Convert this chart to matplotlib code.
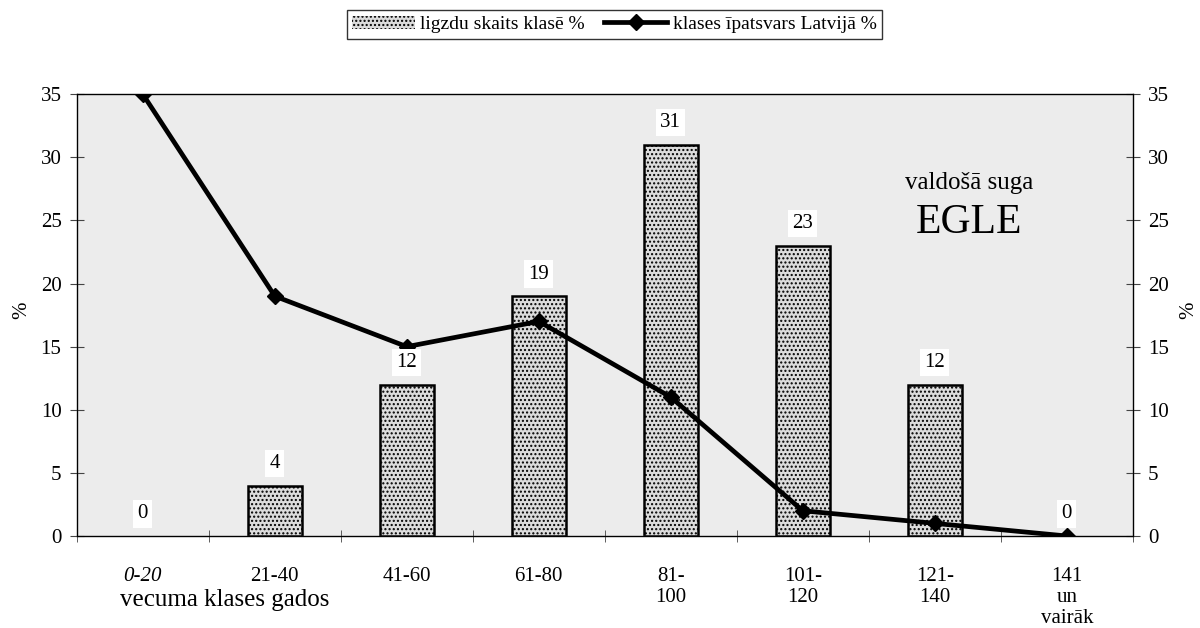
import numpy as np
import matplotlib.pyplot as plt

plt.rcParams['font.family'] = ['Liberation Serif', 'DejaVu Serif']

categories = ['0-20', '21-40', '41-60', '61-80', '81-\n100', '101-\n120', '121-\n140', '141\nun\nvairāk']
nests = [0, 4, 12, 19, 31, 23, 12, 0]        # ligzdu skaits klasē %
share = [35, 19, 15, 17, 11, 2, 1, 0]        # klases īpatsvars Latvijā %

x = np.arange(len(categories))

fig = plt.figure(figsize=(12, 6.28), dpi=100)
ax = fig.add_axes([0.064, 0.1465, 0.88, 0.7035])
ax.set_facecolor('#ececec')

bars = ax.bar(x, nests, width=0.41, color='#dcdcdc', edgecolor='black',
              linewidth=1.8, hatch='....', zorder=2, label='ligzdu skaits klasē %')
for b, v in zip(bars, nests):
    if v == 0:
        b.set_linewidth(0)
line, = ax.plot(x, share, color='black', linewidth=3.4, marker='D', markersize=8,
                zorder=3, label='klases īpatsvars Latvijā %')

for xi, v in zip(x, nests):
    ax.annotate(str(v), (xi, v), xytext=(0, 9), textcoords='offset points',
                ha='center', va='bottom', fontsize=15, zorder=4,
                bbox=dict(boxstyle='square,pad=0.2', fc='white', ec='none'))

ax.set_xlim(-0.5, len(categories) - 0.5)
ax.set_ylim(0, 35)
ax.set_yticks(np.arange(0, 36, 5))
ax.set_xticks(x)
ax.set_xticklabels(categories, fontsize=15, linespacing=1.15)
ax.get_xticklabels()[0].set_style('italic')
ax.tick_params(axis='x', length=0, pad=22)
ax.set_xticks(np.arange(-0.5, len(categories), 1), minor=True)
ax.tick_params(axis='x', which='minor', direction='inout', length=8, color='#444444')
ax.tick_params(axis='y', direction='inout', length=10, labelsize=15, color='#444444', pad=6)
for s in ax.spines.values():
    s.set_color('#444444')
    s.set_linewidth(1.0)

ax2 = ax.twinx()
ax2.set_ylim(0, 35)
ax2.set_yticks(np.arange(0, 36, 5))
ax2.tick_params(axis='y', direction='inout', length=10, labelsize=15, color='#444444', pad=6)

fig.text(22 / 1200, 1 - 310 / 628, '%', fontsize=15, rotation=90, ha='center', va='center')
fig.text(1189 / 1200, 1 - 310 / 628, '%', fontsize=15, rotation=90, ha='center', va='center')

fig.text(0.1, 0.045, 'vecuma klases gados', fontsize=18, ha='left', va='center')
ax.text(0.845, 0.80, 'valdošā suga', transform=ax.transAxes, fontsize=18, ha='center', va='center')
ax.text(0.845, 0.71, 'EGLE', transform=ax.transAxes, fontsize=30, ha='center', va='center')

leg = fig.legend(handles=[bars, line], loc='upper center', bbox_to_anchor=(0.512, 1.0),
                 ncol=2, frameon=True, fancybox=False, edgecolor='black', fontsize=14,
                 handlelength=3.2, columnspacing=1.0, handletextpad=0.3, borderpad=0.3)
leg.get_frame().set_linewidth(1.0)

fig.savefig('out.png', dpi=100)
